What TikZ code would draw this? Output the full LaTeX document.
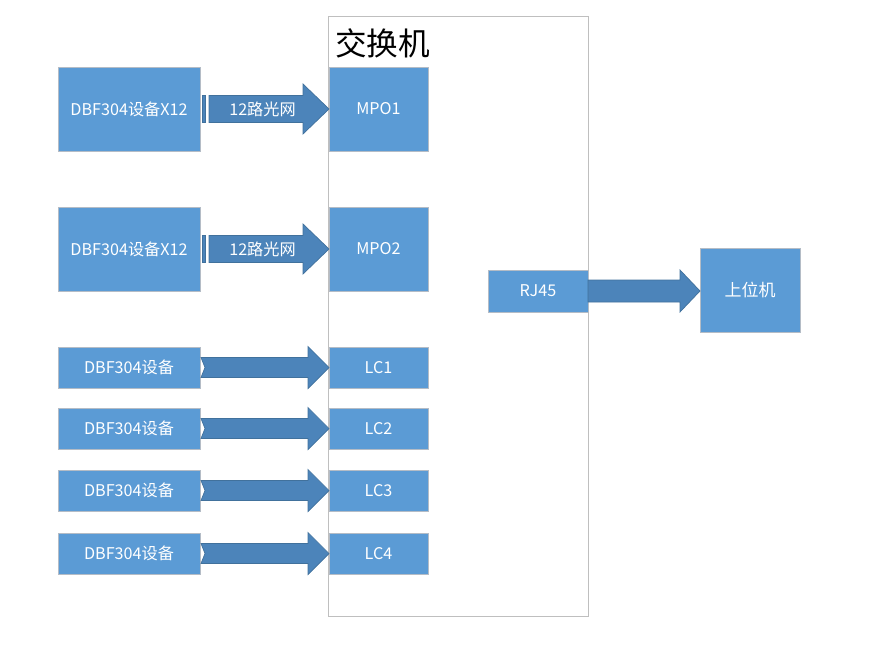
\documentclass[tikz,border=0pt]{standalone}
\usepackage{fontspec}
\usepackage{xcolor}
\usetikzlibrary{calc}
\newfontfamily\cjk{Noto Sans CJK SC}
\definecolor{boxblue}{HTML}{5B9BD5}
\definecolor{boxline}{HTML}{B4BCC6}
\definecolor{arrowblue}{HTML}{4C84BA}
\definecolor{arrowline}{HTML}{41719C}
\definecolor{frameline}{HTML}{BFBFBF}
\tikzset{
  box/.style={fill=boxblue,draw=boxline,line width=0.6pt,inner sep=0pt,outer sep=0pt,
    text=white,font=\cjk\fontsize{13.8}{16}\selectfont},
  bigbox/.style={box,minimum width=4.26cm,minimum height=2.52cm},
  smallbox/.style={box,minimum width=4.26cm,minimum height=1.23cm},
  portbox/.style={box,minimum width=2.97cm,minimum height=1.23cm},
  mpobox/.style={box,minimum width=2.97cm,minimum height=2.52cm},
  fatarrow/.style={fill=arrowblue,draw=arrowline,line width=0.6pt},
}
% notched arrow between two nodes
\newcommand{\notcharrow}[2]{%
  \draw[fatarrow] ($(#1.east)+(1,-10)$) -- ($(#2.west)+(-21,-10)$) -- ($(#2.west)+(-21,-21)$)
    -- (#2.west) -- ($(#2.west)+(-21,21)$) -- ($(#2.west)+(-21,10)$)
    -- ($(#1.east)+(1,10)$) -- ($(#1.east)+(5,0)$) -- cycle;}
% striped arrow between two nodes
\newcommand{\stripearrow}[2]{%
  \draw[fatarrow] ($(#1.east)+(2,-13.5)$) rectangle ($(#1.east)+(5,13.5)$);
  \draw[fatarrow] ($(#1.east)+(9,-13.5)$) -- ($(#2.west)+(-26,-13.5)$) -- ($(#2.west)+(-26,-25)$)
    -- (#2.west) -- ($(#2.west)+(-26,25)$) -- ($(#2.west)+(-26,13.5)$)
    -- ($(#1.east)+(9,13.5)$) -- cycle;}
\begin{document}
\begin{tikzpicture}[x=0.03cm,y=-0.03cm]
        \useasboundingbox (0,0) rectangle (871,653);
        % switch frame
        \draw[frameline,line width=0.6pt] (328,16) rectangle (588,616);
        \node[anchor=north west,inner sep=0pt,font=\cjk\fontsize{27}{30}\selectfont] (title) at (335,28) {交换机};

        % left devices
        \node[bigbox]   (dev1) at (129,109)   {DBF304设备X12};
        \node[bigbox]   (dev2) at (129,249)   {DBF304设备X12};
        \node[smallbox] (dev3) at (129,367.5) {DBF304设备};
        \node[smallbox] (dev4) at (129,428.5) {DBF304设备};
        \node[smallbox] (dev5) at (129,490.5) {DBF304设备};
        \node[smallbox] (dev6) at (129,553.5) {DBF304设备};

        % switch ports
        \node[mpobox]  (mpo1) at (378.5,109)   {MPO1};
        \node[mpobox]  (mpo2) at (378.5,249)   {MPO2};
        \node[portbox] (lc1)  at (378.5,367.5) {LC1};
        \node[portbox] (lc2)  at (378.5,428.5) {LC2};
        \node[portbox] (lc3)  at (378.5,490.5) {LC3};
        \node[portbox] (lc4)  at (378.5,553.5) {LC4};
        \node[portbox,minimum width=3cm,minimum height=1.26cm] (rj45) at (538,291) {RJ45};

        % host
        \node[mpobox,minimum width=3cm,font=\cjk\fontsize{14.5}{16}\selectfont] (host) at (750,290) {上位机};

        % arrows
        \stripearrow{dev1}{mpo1}
        \stripearrow{dev2}{mpo2}
        \node[text=white,font=\cjk\fontsize{13.8}{16}\selectfont] (lbl1) at ($(dev1.east)!0.5!(mpo1.west)+(-2,0)$) {12路光网};
        \node[text=white,font=\cjk\fontsize{13.8}{16}\selectfont] (lbl2) at ($(dev2.east)!0.5!(mpo2.west)+(-2,0)$) {12路光网};
        \foreach \i/\j in {3/1,4/2,5/3,6/4}
          \notcharrow{dev\i}{lc\j};
        \coordinate (hostin) at (host.west |- rj45.east);
        \draw[fatarrow] ($(rj45.east)+(0,-11)$) -- ($(hostin)+(-20,-11)$) -- ($(hostin)+(-20,-21)$)
          -- (hostin) -- ($(hostin)+(-20,21)$) -- ($(hostin)+(-20,11)$)
          -- ($(rj45.east)+(0,11)$) -- cycle;
\end{tikzpicture}
\end{document}
